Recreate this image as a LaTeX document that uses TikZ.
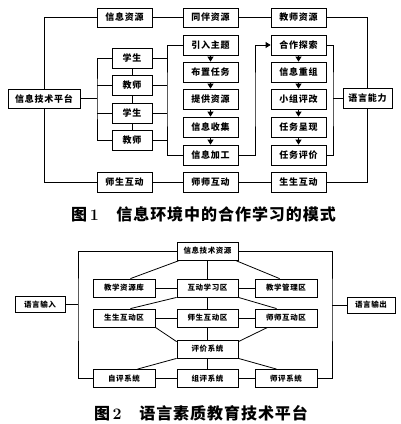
\documentclass[tikz,border=0pt]{standalone}
\usepackage{fontspec}
\newfontfamily\cjk{Noto Sans CJK SC}[LetterSpace=8]
\newfontfamily\cjkcap{Noto Sans CJK SC}[LetterSpace=6]
\usetikzlibrary{arrows.meta,calc}
\tikzset{
  bx/.style={draw, line width=0.8pt, minimum width=55pt, minimum height=20pt, inner sep=0pt,
    font=\cjk\bfseries\fontsize{9}{9}\selectfont},
  sbx/.style={bx, minimum width=40pt},
  fbx/.style={draw, line width=0.8pt, minimum width=62pt, minimum height=18pt, inner sep=0pt,
    font=\cjk\bfseries\fontsize{7.5}{7.5}\selectfont},
  ln/.style={line width=0.8pt},
  arr/.style={line width=0.8pt, -{Triangle[width=6pt,length=5pt]}},
  figcap/.style={font=\cjkcap\bfseries\fontsize{16}{16}\selectfont, inner sep=0pt}
}
\begin{document}
\begin{tikzpicture}[x=1pt,y=-1pt]
\fill[white] (0,0) rectangle (400,424);
\useasboundingbox (0,0) rectangle (400,424);

% ---------- Figure 1 ----------
\node[bx, minimum width=72pt, minimum height=19pt] (ptf) at (44,98.5) {信息技术平台};
\node[bx, minimum height=19pt] (xxzy) at (124.5,17.5) {信息资源};
\node[bx, minimum height=19pt] (tbzy) at (210.5,17.5) {同伴资源};
\node[bx, minimum height=19pt] (jszy) at (298.5,17.5) {教师资源};
\node[bx, minimum width=49pt] (yynl) at (367.5,98) {语言能力};
\node[bx] (shs) at (124.5,182) {师生互动};
\node[bx] (shsh) at (210.5,182) {师师互动};
\node[bx] (sss) at (298.5,182) {生生互动};

\node[sbx] (xs1) at (132,58) {学生};
\node[sbx] (js1) at (132,85) {教师};
\node[sbx] (xs2) at (132,113) {学生};
\node[sbx] (js2) at (132,140) {教师};

\node[bx] (a1) at (210.5,45) {引入主题};
\node[bx] (a2) at (210.5,72) {布置任务};
\node[bx] (a3) at (210.5,99) {提供资源};
\node[bx] (a4) at (210.5,127) {信息收集};
\node[bx] (a5) at (210.5,155) {信息加工};

\node[bx] (b1) at (298.5,45) {合作探索};
\node[bx] (b2) at (298.5,72) {信息重组};
\node[bx] (b3) at (298.5,99) {小组评改};
\node[bx] (b4) at (298.5,127) {任务呈现};
\node[bx] (b5) at (298.5,155) {任务评价};

\coordinate (lbr) at (97,98.5);
\coordinate (rbr) at (167,98.5);
\coordinate (mbr) at (255,98.5);
\coordinate (ebr) at (333,98);

\draw[ln] (xxzy) -- (tbzy) -- (jszy);
\draw[ln] (shs) -- (shsh) -- (sss);
\draw[ln] (xxzy.west) -| (ptf.north);
\draw[ln] (ptf.south) |- (shs.west);
\draw[ln] (jszy.east) -| (yynl.north);
\draw[ln] (yynl.south) |- (sss.east);

\draw[ln] (xs1) -- (js1) -- (xs2) -- (js2);
\draw[ln] (ptf.east) -- (lbr);
\draw[ln] (xs1.west) -| (lbr) |- (js2.west);
\draw[ln] (js1.west) -- (js1.west -| lbr);
\draw[ln] (xs2.west) -- (xs2.west -| lbr);
\draw[ln] (a1.west) -| (rbr) |- (a5.west);
\draw[ln] (xs1.east) -- (xs1.east -| rbr);
\draw[ln] (js1.east) -- (js1.east -| rbr);
\draw[ln] (xs2.east) -- (xs2.east -| rbr);
\draw[ln] (js2.east) -- (js2.east -| rbr);

\draw[arr] (a1) -- (a2);
\draw[arr] (a2) -- (a3);
\draw[arr] (a3) -- (a4);
\draw[arr] (a4) -- (a5);
\draw[arr] (a5.east) -| (mbr) |- (b1.west);

\draw[arr] (b1) -- (b2);
\draw[arr] (b2) -- (b3);
\draw[arr] (b3) -- (b4);
\draw[arr] (b4) -- (b5);
\draw[ln] (b1.east) -| (ebr) |- (b5.east);
\draw[ln] (ebr) -- (yynl.west);

\node[figcap] (cap1) at (203.5,214.5) {图\,{\rmfamily\bfseries 1}\hspace{1.1em}信息环境中的合作学习的模式};

% ---------- Figure 2 ----------
\node[fbx, minimum width=61pt] (ty) at (207.5,251) {信息技术资源};
\node[fbx] (zyk) at (124,288) {教学资源库};
\node[fbx, minimum width=61pt] (hd) at (207.5,288) {互动学习区};
\node[fbx] (gl) at (286,288) {教学管理区};
\node[fbx] (ss) at (124,318) {生生互动区};
\node[fbx, minimum width=61pt] (sh) at (207.5,318) {师生互动区};
\node[fbx] (shi) at (286,318) {师师互动区};
\node[fbx, minimum width=61pt] (pj) at (207.5,349) {评价系统};
\node[fbx] (zp) at (124,378.5) {自评系统};
\node[fbx, minimum width=61pt] (zup) at (207.5,378.5) {组评系统};
\node[fbx] (sp) at (286,378.5) {师评系统};
\node[fbx, minimum width=50pt, minimum height=16pt] (in) at (40,304.5) {语言输入};
\node[fbx, minimum width=48pt, minimum height=16pt] (out) at (371,305) {语言输出};

\coordinate (lb) at (78,304.5);
\coordinate (rb) at (332,305);

\draw[ln] (ty.west) -| (lb) |- (zp.west);
\draw[ln] (ty.east) -| (rb) |- (sp.east);
\draw[ln] (in.east) -- (lb);
\draw[ln] (rb) -- (out.west);

\draw[ln] (zyk) -- (hd) -- (gl);
\draw[ln] (ss) -- (sh) -- (shi);
\draw[ln] (zp) -- (zup) -- (sp);
\draw[ln] (ty) -- (hd);
\draw[ln] (hd) -- (sh);
\draw[ln] (sh) -- (pj);
\draw[ln] (pj) -- (zup);

\draw[ln] ([xshift=3pt]ty.south west) -- ([xshift=-25pt]zyk.north east);
\draw[ln] ([xshift=-3pt]ty.south east) -- ([xshift=25pt]gl.north west);
\draw[ln] (hd.south west) -- ([xshift=-25pt]ss.north east);
\draw[ln] (hd.south east) -- ([xshift=22pt]shi.north west);
\draw[ln] (ss.south east) -- ([yshift=-2pt]pj.north west);
\draw[ln] ([xshift=13pt]shi.south west) -- ([yshift=-2pt]pj.north east);
\draw[ln] (pj.south west) -- ([xshift=-18pt]zp.north east);
\draw[ln] (pj.south east) -- ([xshift=22pt]sp.north west);

\node[figcap] (cap2) at (201,413.5) {图\,{\rmfamily\bfseries 2}\hspace{1.1em}语言素质教育技术平台};
\end{tikzpicture}
\end{document}
